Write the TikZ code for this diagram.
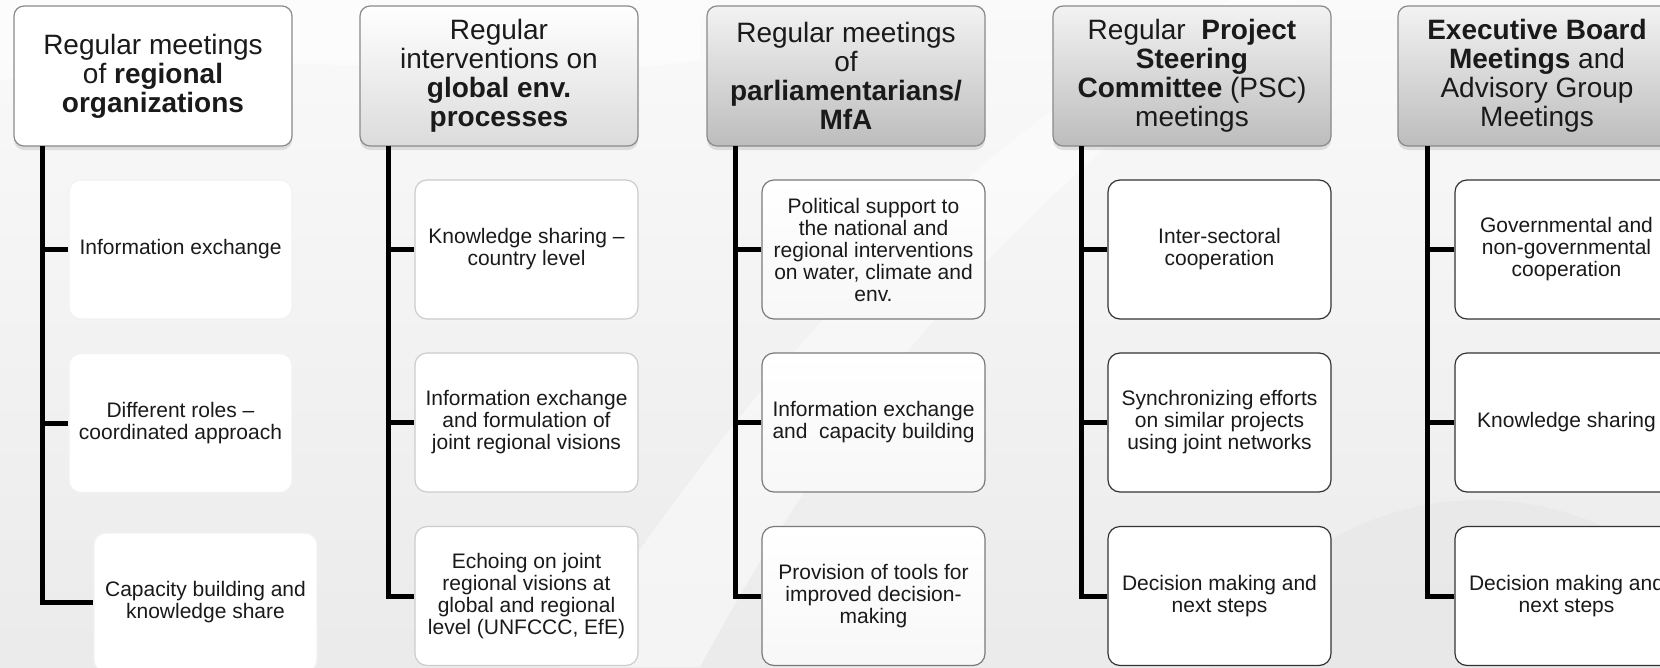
\documentclass[tikz,border=0pt]{standalone}
\usepackage{fontspec}
\setmainfont{Liberation Sans}
\usetikzlibrary{shadows}
\definecolor{txt}{HTML}{1A1A1A}
\definecolor{hdborder}{HTML}{8A8A8A}
\tikzset{
  hdr/.style={rounded corners=10pt, draw=hdborder, line width=1.2pt,
    minimum width=278pt, minimum height=140pt, inner sep=0pt, align=center,
    font=\fontsize{28}{29}\selectfont, text=txt,
    drop shadow={opacity=0.22, shadow xshift=0pt, shadow yshift=-4pt}},
  hdrA/.style={hdr, fill=white},
  hdrB/.style={hdr, top color=white, bottom color=black!14},
  hdrC/.style={hdr, top color=black!5, bottom color=black!26},
  kid/.style={rounded corners=12pt, line width=1.2pt,
    minimum width=223pt, minimum height=139pt, inner sep=0pt, align=center,
    font=\fontsize{21}{22}\selectfont, text=txt},
  kidA/.style={kid, fill=white, draw=black!5},
  kidB/.style={kid, fill=white, draw=black!20},
  kidC/.style={kid, top color=white, bottom color=black!3, draw=black!52},
  kidD/.style={kid, fill=white, draw=black!80},
  conn/.style={line width=5pt, black, line join=miter}
}
\begin{document}
\begin{tikzpicture}[x=1pt,y=-1pt]
\useasboundingbox (0,0) rectangle (1660,667);
\clip (0,0) rectangle (1660,667);
% background
\fill[top color=black!2, bottom color=black!8] (0,0) rectangle (1660,667);
\fill[white, opacity=0.45] (560,667) .. controls (800,300) and (1000,120) .. (1230,0) -- (1300,0) .. controls (1080,150) and (880,330) .. (700,667) -- cycle;
\fill[black!10, opacity=0.45] (1480,800) circle (300);
\fill[white, opacity=0.5] (0,80) .. controls (300,40) and (500,90) .. (700,60) -- (700,0) -- (0,0) -- cycle;

% column 1
\node[hdrA] (h1) at (153,76) {Regular meetings\\ of \textbf{regional}\\ \textbf{organizations}};
\node[kidA] (c11) at (180.5,249.5) {Information exchange};
\node[kidA] (c12) at (180.5,423) {Different roles --\\ coordinated approach};
\node[kidA] (c13) at (205.5,602.5) {Capacity building and\\ knowledge share};
\coordinate (v1) at (42.5,146);

% column 2
\node[hdrB] (h2) at (499,76) {Regular\\ interventions on\\ \textbf{global env.}\\ \textbf{processes}};
\node[kidB] (c21) at (526.5,249.5) {Knowledge sharing --\\ country level};
\node[kidB] (c22) at (526.5,422.5) {Information exchange\\ and formulation of\\ joint regional visions};
\node[kidB] (c23) at (526.5,596) {Echoing on joint\\ regional visions at\\ global and regional\\ level (UNFCCC, EfE)};
\coordinate (v2) at (388.5,146);

% column 3
\node[hdrC] (h3) at (846,76) {Regular meetings\\ of\\ \textbf{parliamentarians/}\\ \textbf{MfA}};
\node[kidC] (c31) at (873.5,249.5) {Political support to\\ the national and\\ regional interventions\\ on water, climate and\\ env.};
\node[kidC] (c32) at (873.5,422.5) {Information exchange\\ and\ \ capacity building};
\node[kidC] (c33) at (873.5,596) {Provision of tools for\\ improved decision-\\ making};
\coordinate (v3) at (735.5,146);

% column 4
\node[hdrC] (h4) at (1192,76) {Regular\ \ \textbf{Project}\\ \textbf{Steering}\\ \textbf{Committee} (PSC)\\ meetings};
\node[kidD] (c41) at (1219.5,249.5) {Inter-sectoral\\ cooperation};
\node[kidD] (c42) at (1219.5,422.5) {Synchronizing efforts\\ on similar projects\\ using joint networks};
\node[kidD] (c43) at (1219.5,596) {Decision making and\\ next steps};
\coordinate (v4) at (1081.5,146);

% column 5
\node[hdrC] (h5) at (1537,76) {\textbf{Executive Board}\\ \textbf{Meetings} and\\ Advisory Group\\ Meetings};
\node[kidD] (c51) at (1566.5,249.5) {Governmental and\\ non-governmental\\ cooperation};
\node[kidD] (c52) at (1566.5,422.5) {Knowledge sharing};
\node[kidD] (c53) at (1566.5,596) {Decision making and\\ next steps};
\coordinate (v5) at (1427.5,146);

% connectors
\foreach \i in {1,...,5}{
  \draw[conn] (v\i) |- (c\i3.west);
  \draw[conn] (c\i1.west -| v\i) -- (c\i1.west);
  \draw[conn] (c\i2.west -| v\i) -- (c\i2.west);
}
\end{tikzpicture}
\end{document}
